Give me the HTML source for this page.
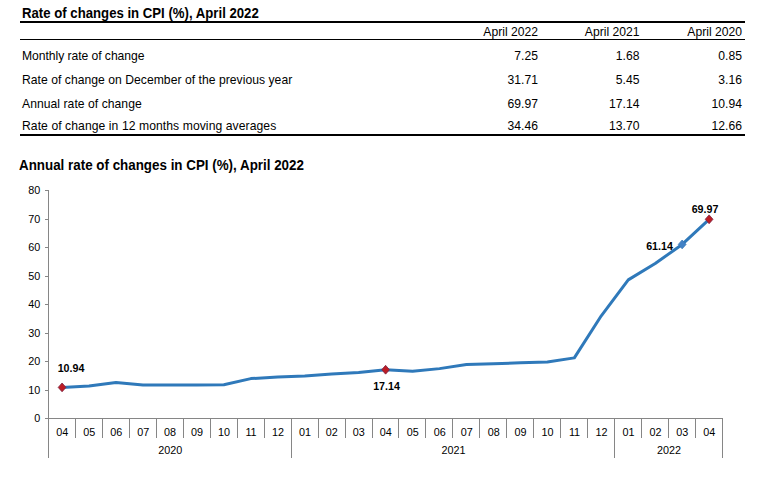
<!DOCTYPE html>
<html><head><meta charset="utf-8"><style>
html,body{margin:0;padding:0;background:#fff;width:768px;height:478px;overflow:hidden;position:relative}
body{font-family:"Liberation Sans",sans-serif;color:#000}
.t{position:absolute;font-size:12.15px;line-height:15px;white-space:nowrap}
.ttl{font-weight:bold;font-size:14.1px;line-height:16px;transform:scaleX(0.935);transform-origin:0 0}
.hl{position:absolute;left:20px;width:725px;background:#000}
.ct{position:absolute;left:19px;top:156.6px;font-weight:bold;font-size:13.9px;transform:scaleX(0.963);transform-origin:0 0;line-height:16px;white-space:nowrap}
svg{position:absolute;left:0;top:0}
.yl{font-size:10.8px;fill:#000}
.xl{font-size:10.8px;fill:#000}
.dl{font-size:10.7px;font-weight:bold;fill:#000}
</style></head><body>
<div class="t ttl" style="left:22px;top:5px">Rate of changes in CPI (%), April 2022</div>
<div class="hl" style="top:21px;height:2px"></div>
<div class="hl" style="top:39px;height:1px"></div>
<div class="hl" style="top:134px;height:2px"></div>
<div class="t r" style="right:230px;top:25px">April 2022</div>
<div class="t r" style="right:128.5px;top:25px">April 2021</div>
<div class="t r" style="right:26px;top:25px">April 2020</div>
<div class="t" style="left:22px;top:49px;letter-spacing:-0.05px">Monthly rate of change</div>
<div class="t r" style="right:230px;top:49px">7.25</div>
<div class="t r" style="right:128.5px;top:49px">1.68</div>
<div class="t r" style="right:26px;top:49px">0.85</div>
<div class="t" style="left:22px;top:73px;letter-spacing:0.035px">Rate of change on December of the previous year</div>
<div class="t r" style="right:230px;top:73px">31.71</div>
<div class="t r" style="right:128.5px;top:73px">5.45</div>
<div class="t r" style="right:26px;top:73px">3.16</div>
<div class="t" style="left:22px;top:97px;letter-spacing:0.045px">Annual rate of change</div>
<div class="t r" style="right:230px;top:97px">69.97</div>
<div class="t r" style="right:128.5px;top:97px">17.14</div>
<div class="t r" style="right:26px;top:97px">10.94</div>
<div class="t" style="left:22px;top:119px;letter-spacing:0.075px">Rate of change in 12 months moving averages</div>
<div class="t r" style="right:230px;top:119px">34.46</div>
<div class="t r" style="right:128.5px;top:119px">13.70</div>
<div class="t r" style="right:26px;top:119px">12.66</div>
<div class="ct">Annual rate of changes in CPI (%), April 2022</div>
<svg width="768" height="478" viewBox="0 0 768 478" style="font-family:'Liberation Sans',sans-serif">
<line x1="48.5" y1="190" x2="48.5" y2="458" stroke="#868686" stroke-width="1"/>
<line x1="45" y1="190.5" x2="48" y2="190.5" stroke="#868686" stroke-width="1"/>
<text x="40.3" y="194.3" text-anchor="end" class="yl">80</text>
<line x1="45" y1="219.5" x2="48" y2="219.5" stroke="#868686" stroke-width="1"/>
<text x="40.3" y="223.3" text-anchor="end" class="yl">70</text>
<line x1="45" y1="247.5" x2="48" y2="247.5" stroke="#868686" stroke-width="1"/>
<text x="40.3" y="251.3" text-anchor="end" class="yl">60</text>
<line x1="45" y1="276.5" x2="48" y2="276.5" stroke="#868686" stroke-width="1"/>
<text x="40.3" y="280.3" text-anchor="end" class="yl">50</text>
<line x1="45" y1="304.5" x2="48" y2="304.5" stroke="#868686" stroke-width="1"/>
<text x="40.3" y="308.3" text-anchor="end" class="yl">40</text>
<line x1="45" y1="333.5" x2="48" y2="333.5" stroke="#868686" stroke-width="1"/>
<text x="40.3" y="337.3" text-anchor="end" class="yl">30</text>
<line x1="45" y1="361.5" x2="48" y2="361.5" stroke="#868686" stroke-width="1"/>
<text x="40.3" y="365.3" text-anchor="end" class="yl">20</text>
<line x1="45" y1="390.5" x2="48" y2="390.5" stroke="#868686" stroke-width="1"/>
<text x="40.3" y="394.3" text-anchor="end" class="yl">10</text>
<line x1="45" y1="418.5" x2="48" y2="418.5" stroke="#868686" stroke-width="1"/>
<text x="40.3" y="422.3" text-anchor="end" class="yl">0</text>
<line x1="48" y1="418.5" x2="722.5" y2="418.5" stroke="#868686" stroke-width="1"/>
<line x1="75.5" y1="418" x2="75.5" y2="438" stroke="#868686" stroke-width="1"/>
<line x1="102.5" y1="418" x2="102.5" y2="438" stroke="#868686" stroke-width="1"/>
<line x1="129.5" y1="418" x2="129.5" y2="438" stroke="#868686" stroke-width="1"/>
<line x1="156.5" y1="418" x2="156.5" y2="438" stroke="#868686" stroke-width="1"/>
<line x1="183.5" y1="418" x2="183.5" y2="438" stroke="#868686" stroke-width="1"/>
<line x1="210.5" y1="418" x2="210.5" y2="438" stroke="#868686" stroke-width="1"/>
<line x1="237.5" y1="418" x2="237.5" y2="438" stroke="#868686" stroke-width="1"/>
<line x1="264.5" y1="418" x2="264.5" y2="438" stroke="#868686" stroke-width="1"/>
<line x1="291.5" y1="418" x2="291.5" y2="458" stroke="#868686" stroke-width="1"/>
<line x1="318.5" y1="418" x2="318.5" y2="438" stroke="#868686" stroke-width="1"/>
<line x1="345.5" y1="418" x2="345.5" y2="438" stroke="#868686" stroke-width="1"/>
<line x1="372.5" y1="418" x2="372.5" y2="438" stroke="#868686" stroke-width="1"/>
<line x1="398.5" y1="418" x2="398.5" y2="438" stroke="#868686" stroke-width="1"/>
<line x1="425.5" y1="418" x2="425.5" y2="438" stroke="#868686" stroke-width="1"/>
<line x1="452.5" y1="418" x2="452.5" y2="438" stroke="#868686" stroke-width="1"/>
<line x1="479.5" y1="418" x2="479.5" y2="438" stroke="#868686" stroke-width="1"/>
<line x1="506.5" y1="418" x2="506.5" y2="438" stroke="#868686" stroke-width="1"/>
<line x1="533.5" y1="418" x2="533.5" y2="438" stroke="#868686" stroke-width="1"/>
<line x1="560.5" y1="418" x2="560.5" y2="438" stroke="#868686" stroke-width="1"/>
<line x1="587.5" y1="418" x2="587.5" y2="438" stroke="#868686" stroke-width="1"/>
<line x1="614.5" y1="418" x2="614.5" y2="458" stroke="#868686" stroke-width="1"/>
<line x1="641.5" y1="418" x2="641.5" y2="438" stroke="#868686" stroke-width="1"/>
<line x1="668.5" y1="418" x2="668.5" y2="438" stroke="#868686" stroke-width="1"/>
<line x1="695.5" y1="418" x2="695.5" y2="438" stroke="#868686" stroke-width="1"/>
<line x1="722.5" y1="418" x2="722.5" y2="458" stroke="#868686" stroke-width="1"/>
<text x="62.28" y="435.6" text-anchor="middle" class="xl">04</text>
<text x="89.24" y="435.6" text-anchor="middle" class="xl">05</text>
<text x="116.20" y="435.6" text-anchor="middle" class="xl">06</text>
<text x="143.16" y="435.6" text-anchor="middle" class="xl">07</text>
<text x="170.12" y="435.6" text-anchor="middle" class="xl">08</text>
<text x="197.08" y="435.6" text-anchor="middle" class="xl">09</text>
<text x="224.04" y="435.6" text-anchor="middle" class="xl">10</text>
<text x="251.00" y="435.6" text-anchor="middle" class="xl">11</text>
<text x="277.96" y="435.6" text-anchor="middle" class="xl">12</text>
<text x="304.92" y="435.6" text-anchor="middle" class="xl">01</text>
<text x="331.88" y="435.6" text-anchor="middle" class="xl">02</text>
<text x="358.84" y="435.6" text-anchor="middle" class="xl">03</text>
<text x="385.80" y="435.6" text-anchor="middle" class="xl">04</text>
<text x="412.76" y="435.6" text-anchor="middle" class="xl">05</text>
<text x="439.72" y="435.6" text-anchor="middle" class="xl">06</text>
<text x="466.68" y="435.6" text-anchor="middle" class="xl">07</text>
<text x="493.64" y="435.6" text-anchor="middle" class="xl">08</text>
<text x="520.60" y="435.6" text-anchor="middle" class="xl">09</text>
<text x="547.56" y="435.6" text-anchor="middle" class="xl">10</text>
<text x="574.52" y="435.6" text-anchor="middle" class="xl">11</text>
<text x="601.48" y="435.6" text-anchor="middle" class="xl">12</text>
<text x="628.44" y="435.6" text-anchor="middle" class="xl">01</text>
<text x="655.40" y="435.6" text-anchor="middle" class="xl">02</text>
<text x="682.36" y="435.6" text-anchor="middle" class="xl">03</text>
<text x="709.32" y="435.6" text-anchor="middle" class="xl">04</text>
<text x="170.32" y="454" text-anchor="middle" class="xl">2020</text>
<text x="453.40" y="454" text-anchor="middle" class="xl">2021</text>
<text x="669.08" y="454" text-anchor="middle" class="xl">2022</text>
<polyline points="62.08,387.39 89.04,386.11 116.00,382.61 142.96,385.06 169.92,385.03 196.88,385.09 223.84,384.69 250.80,378.59 277.76,376.97 304.72,375.92 331.68,374.09 358.64,372.44 385.60,369.74 412.56,371.30 439.52,368.62 466.48,364.58 493.44,363.73 520.40,362.79 547.36,361.90 574.32,357.86 601.28,315.79 628.24,279.88 655.20,263.50 682.16,244.42 709.12,219.28" fill="none" stroke="#2f79ba" stroke-width="3" stroke-linejoin="round"/>
<path d="M62.08 382.99 L65.98 387.39 L62.08 391.79 L58.18 387.39Z" fill="#bd1c24" stroke="#7a2544" stroke-width="0.8"/>
<path d="M385.60 365.34 L389.50 369.74 L385.60 374.14 L381.70 369.74Z" fill="#bd1c24" stroke="#7a2544" stroke-width="0.8"/>
<path d="M682.16 240.02 L686.06 244.42 L682.16 248.82 L678.26 244.42Z" fill="#4282c6" stroke="#3a78b8" stroke-width="0.8"/>
<path d="M709.12 214.88 L713.02 219.28 L709.12 223.68 L705.22 219.28Z" fill="#bd1c24" stroke="#7a2544" stroke-width="0.8"/>
<text x="71" y="372" text-anchor="middle" class="dl">10.94</text>
<text x="386.5" y="390" text-anchor="middle" class="dl">17.14</text>
<text x="659.5" y="250" text-anchor="middle" class="dl">61.14</text>
<text x="705" y="212.5" text-anchor="middle" class="dl">69.97</text>
</svg>
</body></html>
